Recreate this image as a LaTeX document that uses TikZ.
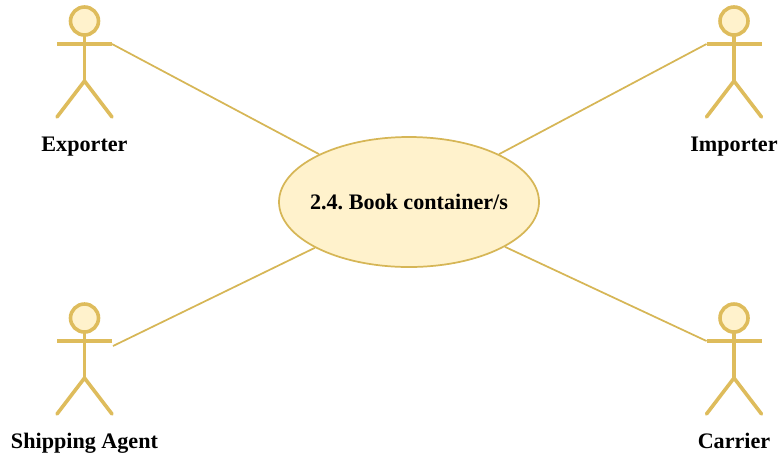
\documentclass[tikz,border=0pt]{standalone}
\usepackage{fontspec}
\setmainfont{Liberation Serif}
\usepackage{xcolor}
\usetikzlibrary{shapes.geometric,positioning}
\definecolor{actorline}{RGB}{222,188,92}
\definecolor{usefill}{RGB}{255,242,204}
\definecolor{useline}{RGB}{214,182,86}
\tikzset{
  actorname/.style={font=\fontsize{16.6}{18}\selectfont\bfseries,text=black,inner sep=0pt,anchor=base},
  assoc/.style={draw=useline,line width=1.3pt},
  pics/actor/.style={code={
    \draw[actorline,line width=2.7pt,fill=usefill] (0,-23) circle (14);
    \draw[actorline,line width=2.7pt] (0,-9) -- (0,37);
    \draw[actorline,line width=2.7pt] (-27.5,0) coordinate (-lhand) -- (27.5,0) coordinate (-rhand);
    \draw[actorline,line width=2.7pt,line cap=round] (-27.5,73) -- (0,37) -- (27.5,73);
  }}
}
\begin{document}
\begin{tikzpicture}[x=0.75pt,y=-0.75pt]
\useasboundingbox (0,0) rectangle (780,462);
\node[ellipse,draw=useline,fill=usefill,line width=1.3pt,minimum width=195pt,minimum height=97.5pt,inner sep=0pt,
  font=\fontsize{16.6}{18}\selectfont\bfseries\frenchspacing] (bookcontainer) at (409,202) {\makebox[0pt][c]{2.4. Book container/s}};
\pic (exporter) at (84.5,44) {actor};
\pic (importer) at (734,44) {actor};
\pic (agent) at (84.5,341) {actor};
\pic (carrier) at (734,341) {actor};
\node[actorname] (exportername) at (84.5,151) {Exporter};
\node[actorname] (importername) at (734,151) {Importer};
\node[actorname] (agentname) at (84.5,448) {Shipping Agent};
\node[actorname] (carriername) at (734,448) {Carrier};
\coordinate (agentend) at (113,346);
\draw[assoc] (exporter-rhand) -- (bookcontainer);
\draw[assoc] (importer-lhand) -- (bookcontainer);
\draw[assoc] (agentend) -- (bookcontainer);
\draw[assoc] (carrier-lhand) -- (bookcontainer);
\end{tikzpicture}
\end{document}
